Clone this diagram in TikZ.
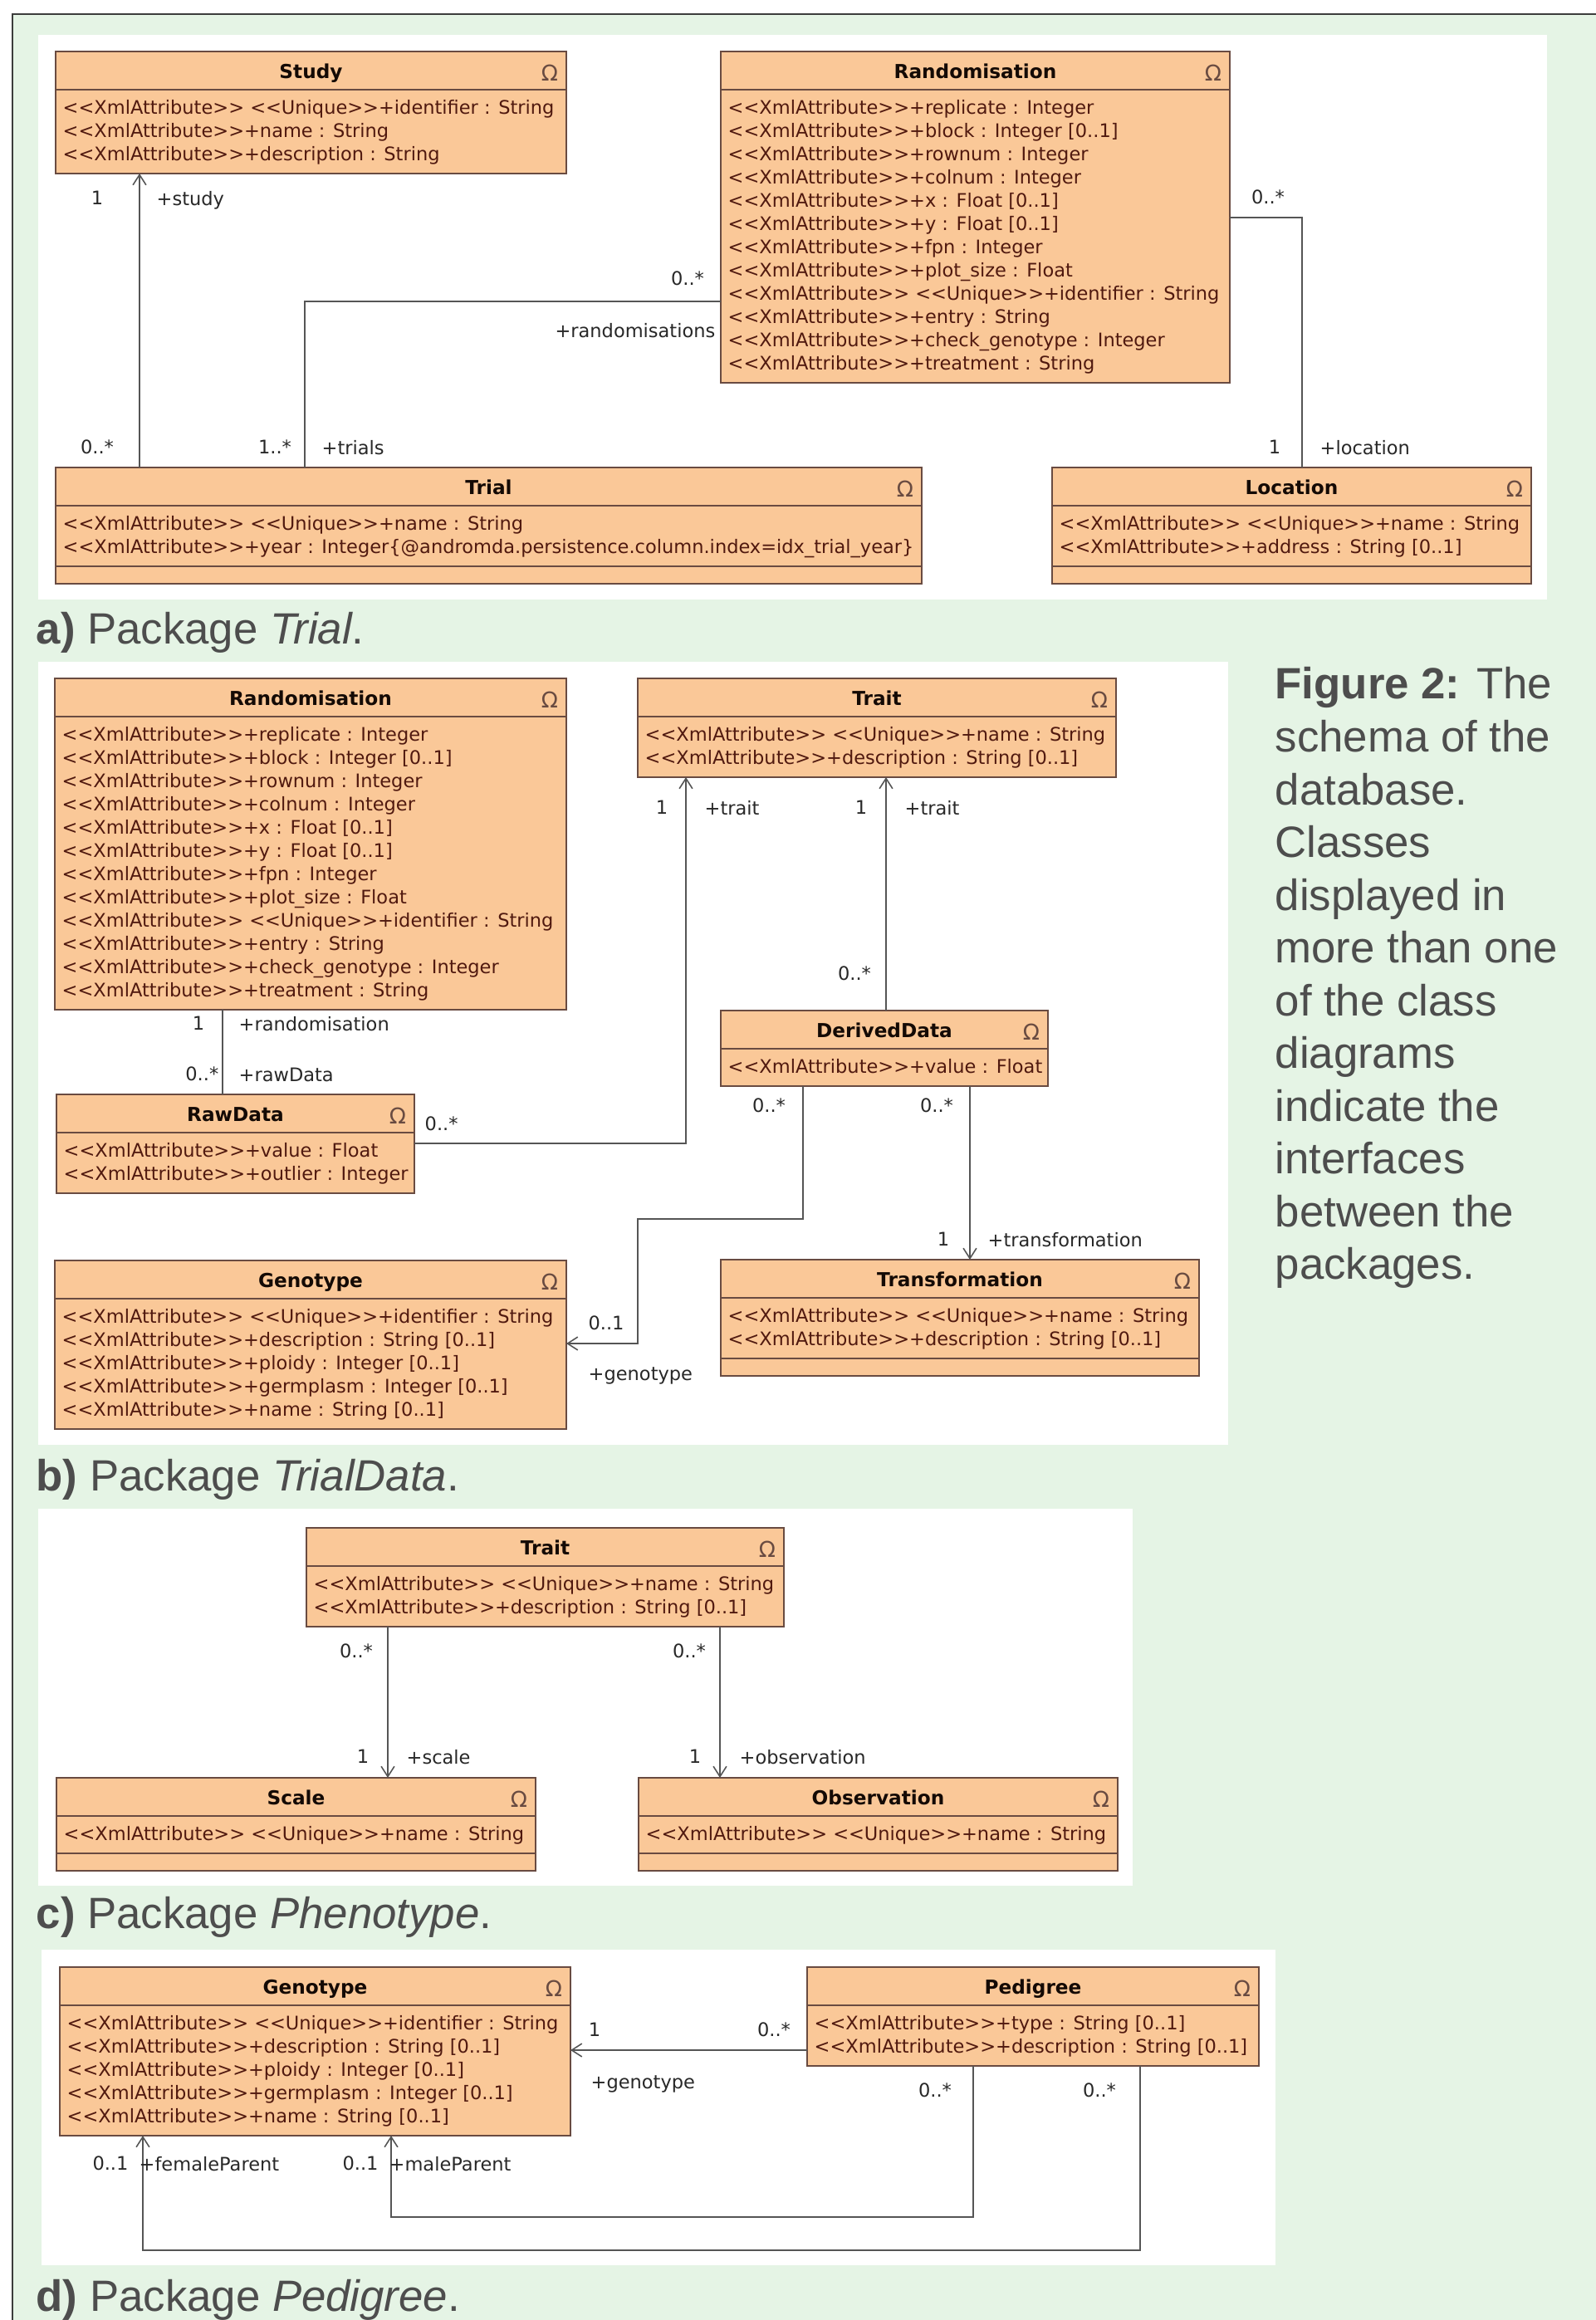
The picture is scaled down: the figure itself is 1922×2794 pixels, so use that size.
\documentclass[tikz,border=0pt]{standalone}
\usepackage{fontspec}
\setmainfont{Liberation Sans}
\newfontfamily\umlfont{DejaVu Sans}
\usetikzlibrary{arrows.meta,calc}

\definecolor{bggreen}{RGB}{229,244,229}
\definecolor{framecol}{RGB}{60,60,60}
\definecolor{classfill}{RGB}{250,200,152}
\definecolor{classdraw}{RGB}{105,75,65}
\definecolor{attrink}{RGB}{80,25,15}
\definecolor{titleink}{RGB}{20,10,5}
\definecolor{wire}{RGB}{85,85,85}
\definecolor{multink}{RGB}{40,40,40}
\definecolor{capink}{RGB}{77,77,77}

\newcommand\xa{<\kern0pt<XmlAttribute>\kern0pt>}
\newcommand\uq{<\kern0pt<Unique>\kern0pt>}

% #1 operations row height, #2 name, #3 top left, #4 width, #5 rows, #6 title, #7 rows
\newcommand\umlclass[7][0]{%
  \pgfmathsetmacro\boxh{63+28*#5+#1}%
  \node[classbox, minimum width=#4*0.01cm, minimum height=\boxh*0.01cm] (#2) at (#3) {};
  \draw[classline] ($(#2.north west)+(0,46)$) -- ($(#2.north east)+(0,46)$);
  \node[classname] (#2-name) at ($(#2.north)+(0,23)$) {#6};
  \node[omega] (#2-icon) at ($(#2.north east)+(-20,26)$) {Ω};
  \foreach \row [count=\k] in {#7}
    \node[attr] (#2-\k) at ($(#2.north west)+(8,38+28*\k)$) {\row};
  \ifnum#1>0
    \draw[classline] ($(#2.south west)+(0,-#1)$) -- ($(#2.south east)+(0,-#1)$);
  \fi
}

\begin{document}
\begin{tikzpicture}[x=0.01cm, y=-0.01cm,
  classbox/.style={draw=classdraw, fill=classfill, line width=0.6pt, anchor=north west, inner sep=0pt, outer sep=0pt},
  classline/.style={draw=classdraw, line width=0.6pt},
  classname/.style={font=\umlfont\bfseries\fontsize{6.6}{8}\selectfont, text=titleink, anchor=mid, inner sep=0pt},
  omega/.style={font=\umlfont\fontsize{7.5}{8}\selectfont, text=classdraw, inner sep=0pt},
  attr/.style={font=\umlfont\fontsize{6.4}{8}\selectfont, text=attrink, anchor=mid west, inner sep=0pt},
  mult/.style={font=\umlfont\fontsize{6.4}{8}\selectfont, text=multink, inner sep=0pt},
  assoc/.style={draw=wire, line width=0.45pt},
  navarrow/.style={-{Straight Barb[length=3.5pt,width=4.5pt]}},
  pkg/.style={font=\fontsize{15}{18}\selectfont, text=capink, anchor=base west, inner sep=0pt}]

\useasboundingbox (0,0) rectangle (1922,2794);
\fill[white] (0,0) rectangle (1922,2794);
\fill[bggreen] (15,17) rectangle (1922,2794);
\draw[framecol, line width=0.7pt] (1922,17) -- (15,17) -- (15,2794);

\fill[white] (46,42) rectangle (1863,722);
\fill[white] (46,797) rectangle (1479,1740);
\fill[white] (46,1817) rectangle (1364,2271);
\fill[white] (50,2348) rectangle (1536,2728);

% a) Trial
\umlclass{study}{67,62}{615}{3}{Study}{\xa{} \uq+identifier : String, \xa+name : String, \xa+description : String}
\umlclass{randa}{868,62}{613}{12}{Randomisation}{\xa+replicate : Integer, \xa+block : Integer [0..1], \xa+rownum : Integer, \xa+colnum : Integer, \xa+x : Float [0..1], \xa+y : Float [0..1], \xa+fpn : Integer, \xa+plot\_size : Float, \xa{} \uq+identifier : String, \xa+entry : String, \xa+check\_genotype : Integer, \xa+treatment : String}
\umlclass[21]{trial}{67,563}{1043}{2}{Trial}{\xa{} \uq+name : String, \xa+year : Integer\{@andromda.persistence.column.index=idx\_trial\_year\}}
\umlclass[21]{loc}{1267,563}{577}{2}{Location}{\xa{} \uq+name : String, \xa+address : String [0..1]}

\draw[assoc,navarrow] (trial.north -| 168,0) -- (study.south -| 168,0);
\draw[assoc] (trial.north -| 367,0) |- (randa.west |- 0,363);
\draw[assoc] (randa.east |- 0,262) -| (loc.north -| 1568,0);

\node[mult] (m-study) at (117,238) {1};
\node[mult, anchor=mid west] (r-study) at (188,238) {+study};
\node[mult] (m-trialsa) at (117,538) {0..*};
\node[mult] (m-trials) at (331,538) {1..*};
\node[mult, anchor=mid west] (r-trials) at (387,538) {+trials};
\node[mult] (m-rands) at (828,335) {0..*};
\node[mult, anchor=mid east] (r-rands) at (862,397) {+randomisations};
\node[mult] (m-randloc) at (1527,237) {0..*};
\node[mult] (m-loc) at (1535,538) {1};
\node[mult, anchor=mid west] (r-loc) at (1589,538) {+location};

\node[pkg] (lbl-a) at (43,775) {\textbf{a)} Package \textit{Trial}.};

% b) TrialData
\umlclass{randb}{66,817}{616}{12}{Randomisation}{\xa+replicate : Integer, \xa+block : Integer [0..1], \xa+rownum : Integer, \xa+colnum : Integer, \xa+x : Float [0..1], \xa+y : Float [0..1], \xa+fpn : Integer, \xa+plot\_size : Float, \xa{} \uq+identifier : String, \xa+entry : String, \xa+check\_genotype : Integer, \xa+treatment : String}
\umlclass{traitb}{768,817}{576}{2}{Trait}{\xa{} \uq+name : String, \xa+description : String [0..1]}
\umlclass{raw}{68,1318}{431}{2}{RawData}{\xa+value : Float, \xa+outlier : Integer}
\umlclass{derived}{868,1217}{394}{1}{DerivedData}{\xa+value : Float}
\umlclass{genob}{66,1518}{616}{5}{Genotype}{\xa{} \uq+identifier : String, \xa+description : String [0..1], \xa+ploidy : Integer [0..1], \xa+germplasm : Integer [0..1], \xa+name : String [0..1]}
\umlclass[21]{transf}{868,1517}{576}{2}{Transformation}{\xa{} \uq+name : String, \xa+description : String [0..1]}

\draw[assoc] (randb.south -| 268,0) -- (raw.north -| 268,0);
\draw[assoc,navarrow] (raw.east |- 0,1377) -| (traitb.south -| 826,0);
\draw[assoc,navarrow] (derived.north -| 1067,0) -- (traitb.south -| 1067,0);
\draw[assoc,navarrow] (derived.south -| 967,0) |- (768,1468) |- (genob.east |- 0,1618);
\draw[assoc,navarrow] (derived.south -| 1168,0) -- (transf.north -| 1168,0);

\node[mult, anchor=east] (m-randb) at (247,1232) {1};
\node[mult, anchor=mid west] (r-randb) at (287,1232) {+randomisation};
\node[mult, anchor=east] (m-raw) at (264,1293) {0..*};
\node[mult, anchor=mid west] (r-raw) at (287,1293) {+rawData};
\node[mult, anchor=west] (m-rawtrait) at (511,1353) {0..*};
\node[mult] (m-trait1) at (797,972) {1};
\node[mult, anchor=mid west] (r-trait1) at (848,972) {+trait};
\node[mult] (m-trait2) at (1037,972) {1};
\node[mult, anchor=mid west] (r-trait2) at (1089,972) {+trait};
\node[mult] (m-dertrait) at (1029,1172) {0..*};
\node[mult] (m-dergeno) at (926,1331) {0..*};
\node[mult] (m-dertransf) at (1128,1331) {0..*};
\node[mult] (m-genob) at (730,1593) {0..1};
\node[mult, anchor=mid west] (r-genob) at (708,1653) {+genotype};
\node[mult] (m-transf) at (1136,1492) {1};
\node[mult, anchor=mid west] (r-transf) at (1189,1492) {+transformation};

\node[pkg] (lbl-b) at (43,1795) {\textbf{b)} Package \textit{TrialData}.};

\node[font=\fontsize{15}{18.07}\selectfont, text=capink, anchor=north west, align=left, inner sep=0pt] (figcap) at (1535,803)
  {\textbf{Figure 2:} The\\schema of the\\database.\\Classes\\displayed in\\more than one\\of the class\\diagrams\\indicate the\\interfaces\\between the\\packages.};

% c) Phenotype
\umlclass{traitc}{369,1840}{575}{2}{Trait}{\xa{} \uq+name : String, \xa+description : String [0..1]}
\umlclass[21]{scale}{68,2141}{577}{1}{Scale}{\xa{} \uq+name : String}
\umlclass[21]{obs}{769,2141}{577}{1}{Observation}{\xa{} \uq+name : String}

\draw[assoc,navarrow] (traitc.south -| 467,0) -- (scale.north -| 467,0);
\draw[assoc,navarrow] (traitc.south -| 867,0) -- (obs.north -| 867,0);

\node[mult] (m-tscale) at (429,1988) {0..*};
\node[mult] (m-scale) at (437,2115) {1};
\node[mult, anchor=mid west] (r-scale) at (489,2115) {+scale};
\node[mult] (m-tobs) at (830,1988) {0..*};
\node[mult] (m-obs) at (837,2115) {1};
\node[mult, anchor=mid west] (r-obs) at (890,2115) {+observation};

\node[pkg] (lbl-c) at (43,2322) {\textbf{c)} Package \textit{Phenotype}.};

% d) Pedigree
\umlclass{genod}{72,2369}{615}{5}{Genotype}{\xa{} \uq+identifier : String, \xa+description : String [0..1], \xa+ploidy : Integer [0..1], \xa+germplasm : Integer [0..1], \xa+name : String [0..1]}
\umlclass{pedig}{972,2369}{544}{2}{Pedigree}{\xa+type : String [0..1], \xa+description : String [0..1]}

\draw[assoc,navarrow] (pedig.west |- 0,2469) -- (genod.east |- 0,2469);
\draw[assoc,navarrow] (pedig.south -| 1172,0) |- (471,2670) -- (genod.south -| 471,0);
\draw[assoc,navarrow] (pedig.south -| 1373,0) |- (172,2710) -- (genod.south -| 172,0);

\node[mult] (m-genod) at (716,2444) {1};
\node[mult] (m-pedgeno) at (932,2444) {0..*};
\node[mult, anchor=mid west] (r-genod) at (711,2506) {+genotype};
\node[mult] (m-pedmale) at (1126,2517) {0..*};
\node[mult] (m-pedfemale) at (1324,2517) {0..*};
\node[mult] (m-male) at (434,2605) {0..1};
\node[mult, anchor=mid west] (r-male) at (468,2605) {+maleParent};
\node[mult] (m-female) at (133,2605) {0..1};
\node[mult, anchor=mid west] (r-female) at (167,2605) {+femaleParent};

\node[pkg] (lbl-d) at (43,2783) {\textbf{d)} Package \textit{Pedigree}.};
\end{tikzpicture}
\end{document}
